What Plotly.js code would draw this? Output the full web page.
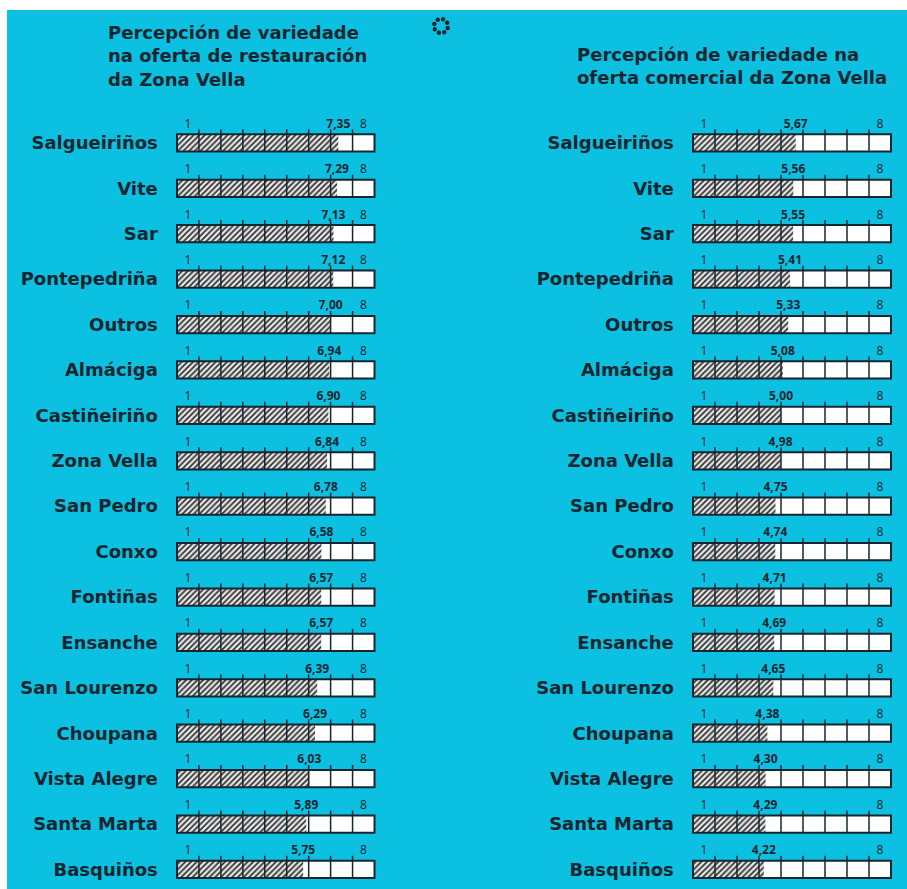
<!DOCTYPE html>
<html>
<head>
<meta charset="utf-8">
<script src="https://cdn.plot.ly/plotly-3.0.1.min.js"></script>
<style>html,body{margin:0;padding:0;background:#fff;}#chart{width:907px;height:889px;}</style>
</head>
<body>
<div id="chart"></div>
<script>
// ---- data ----
const categories = ['Salgueiriños','Vite','Sar','Pontepedriña','Outros','Almáciga','Castiñeiriño','Zona Vella','San Pedro','Conxo','Fontiñas','Ensanche','San Lourenzo','Choupana','Vista Alegre','Santa Marta','Basquiños'];
const restauracion = [7.35,7.29,7.13,7.12,7.00,6.94,6.90,6.84,6.78,6.58,6.57,6.57,6.39,6.29,6.03,5.89,5.75];
const comercial = [5.67,5.56,5.55,5.41,5.33,5.08,5.00,4.98,4.75,4.74,4.71,4.69,4.65,4.38,4.30,4.29,4.22];
const scaleLabels = ['1','8'];
const titleRest = 'Percepción de variedade<br>na oferta de restauración<br>da Zona Vella';
const titleCom = 'Percepción de variedade na<br>oferta comercial da Zona Vella';

// ---- style ----
const W = 907, H = 889, TOP = 120;
const BG = '#0cc0e1';
const INK = '#13262f';
const FONT = 'DejaVu Sans';
const SMALL = 'Open Sans';
const BARW = 0.38;
const px2x = p => p / W;
const px2y = p => (H - p) / (H - TOP);
const idx = categories.map((_, i) => i);
const fmt = v => v.toFixed(2).replace('.', ',');

const panels = [
  {values: restauracion, xa: 'x', ya: 'y', start: 0, end: 9},
  {values: comercial, xa: 'x2', ya: 'y2', start: 1, end: 10}
];

const traces = [];
panels.forEach(p => {
  const common = {type: 'bar', orientation: 'h', y: idx, base: idx.map(() => p.start),
    width: BARW, xaxis: p.xa, yaxis: p.ya, hoverinfo: 'skip', showlegend: false, cliponaxis: false};
  // white box
  traces.push(Object.assign({}, common, {x: idx.map(() => p.end - p.start),
    marker: {color: '#ffffff', line: {width: 0}}}));
  // hatched value bar
  traces.push(Object.assign({}, common, {x: p.values.map(v => v - p.start),
    marker: {color: '#e6e6e6', line: {width: 0},
      pattern: {shape: '/', fgcolor: '#2a2a2a', bgcolor: '#e6e6e6', size: 4, solidity: 0.4}}}));
  // outline
  traces.push(Object.assign({}, common, {x: idx.map(() => p.end - p.start),
    marker: {color: 'rgba(0,0,0,0)', line: {width: 2, color: INK}}}));
  // tick marks
  const tx = [], ty = [];
  idx.forEach(i => {
    for (let k = p.start + 1; k < p.end; k++) {
      tx.push(k, k, null);
      ty.push(i + BARW / 2, i - BARW / 2 - 0.11, null);
    }
  });
  traces.push({type: 'scatter', mode: 'lines', x: tx, y: ty, xaxis: p.xa, yaxis: p.ya,
    line: {color: INK, width: 1.5}, hoverinfo: 'skip', showlegend: false, cliponaxis: false});
  // value labels
  traces.push({type: 'scatter', mode: 'text', x: p.values, y: idx.map(i => i - 0.40),
    text: p.values.map(fmt), textposition: 'middle center', xaxis: p.xa, yaxis: p.ya,
    textfont: {family: SMALL, size: 12, color: INK, weight: 700}, hoverinfo: 'skip', showlegend: false, cliponaxis: false});
  // scale labels 1 and 8
  const sx = [], sy = [], st = [];
  idx.forEach(i => {
    sx.push(p.start + 0.5, p.start + 8.5); sy.push(i - 0.40, i - 0.40); st.push(scaleLabels[0], scaleLabels[1]);
  });
  traces.push({type: 'scatter', mode: 'text', x: sx, y: sy, text: st, textposition: 'middle center',
    xaxis: p.xa, yaxis: p.ya, textfont: {family: SMALL, size: 12, color: INK, weight: 400},
    hoverinfo: 'skip', showlegend: false, cliponaxis: false});
});

const yRange = [16.43, -0.504];
const yax = anchor => ({anchor: anchor, range: yRange, tickmode: 'array', tickvals: idx, ticktext: categories,
  showgrid: false, zeroline: false, showline: false, ticks: '', ticklabelstandoff: 16,
  tickfont: {family: FONT, size: 18, color: INK, weight: 700}, fixedrange: true});
const xax = (l, r, range) => ({domain: [px2x(l), px2x(r)], range: range, visible: false, fixedrange: true});

// background strips and logo dots
const shapes = [
  {type: 'rect', xref: 'paper', yref: 'paper', x0: 0, x1: 1, y0: px2y(10), y1: px2y(-5), fillcolor: '#ffffff', line: {width: 0}, layer: 'below'},
  {type: 'rect', xref: 'paper', yref: 'paper', x0: -0.01, x1: px2x(7), y0: px2y(895), y1: px2y(-5), fillcolor: '#ffffff', line: {width: 0}, layer: 'below'}
];
for (let a = 0; a < 8; a++) {
  const ang = a * Math.PI / 4 + 0.3;
  const cx = 441 + 7 * Math.cos(ang), cy = 26 + 7 * Math.sin(ang);
  shapes.push({type: 'circle', xref: 'paper', yref: 'paper', x0: px2x(cx - 2.2), x1: px2x(cx + 2.2),
    y0: px2y(cy + 2.2), y1: px2y(cy - 2.2), fillcolor: INK, line: {width: 0}});
}

const layout = {
  width: W, height: H, margin: {l: 0, r: 0, t: TOP, b: 0},
  paper_bgcolor: BG, plot_bgcolor: 'rgba(0,0,0,0)', barmode: 'overlay', showlegend: false,
  xaxis: xax(174.8, 376.7, [-0.1, 9.1]),
  xaxis2: xax(690.8, 893.2, [0.9, 10.1]),
  yaxis: yax('x'), yaxis2: yax('x2'),
  shapes: shapes,
  annotations: [
    {text: titleRest, xref: 'paper', yref: 'paper', x: px2x(106), y: px2y(20), xanchor: 'left', yanchor: 'top',
      align: 'left', showarrow: false, font: {family: FONT, size: 18, color: INK, weight: 700}},
    {text: titleCom, xref: 'paper', yref: 'paper', x: px2x(575), y: px2y(42), xanchor: 'left', yanchor: 'top',
      align: 'left', showarrow: false, font: {family: FONT, size: 18, color: INK, weight: 700}}
  ]
};

Plotly.newPlot('chart', traces, layout, {displayModeBar: false, staticPlot: true});
</script>
</body>
</html>
